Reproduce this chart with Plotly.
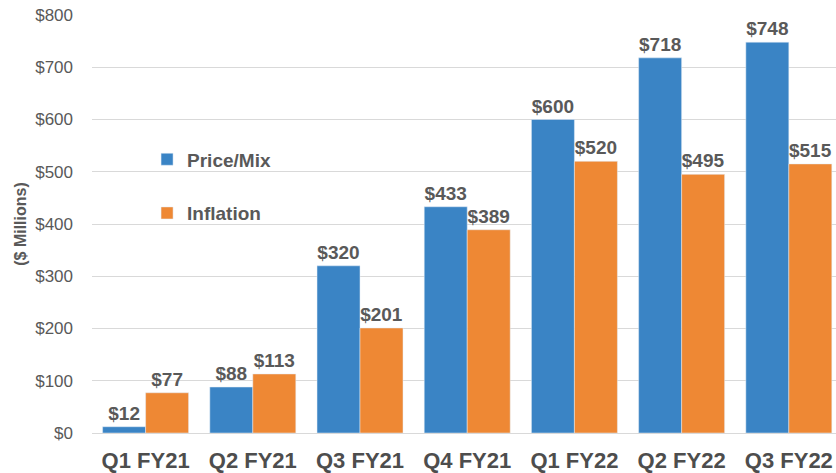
import plotly.graph_objects as go

categories = ["Q1 FY21", "Q2 FY21", "Q3 FY21", "Q4 FY21", "Q1 FY22", "Q2 FY22", "Q3 FY22"]
price_mix = [12, 88, 320, 433, 600, 718, 748]
inflation = [77, 113, 201, 389, 520, 495, 515]
y_ticks = [0, 100, 200, 300, 400, 500, 600, 700, 800]
y_tick_labels = ["$" + str(v) for v in y_ticks]

BLUE = "#3A84C5"
ORANGE = "#EE8834"
GRAY = "#595959"
FONT = "Liberation Sans, Arial, sans-serif"

fig = go.Figure()
fig.add_trace(go.Bar(
    name="Price/Mix", x=categories, y=price_mix, marker_color=BLUE,
    text=["$" + str(v) for v in price_mix], textposition="outside",
    textfont=dict(family=FONT, size=19, color=GRAY, weight="bold"),
    cliponaxis=False, legendgroup="a",
))
fig.add_trace(go.Bar(
    name="Inflation", x=categories, y=inflation, marker_color=ORANGE,
    text=["$" + str(v) for v in inflation], textposition="outside",
    textfont=dict(family=FONT, size=19, color=GRAY, weight="bold"),
    cliponaxis=False, legendgroup="b",
))

fig.update_layout(
    width=836, height=473,
    margin=dict(l=92, r=0, t=15, b=38),
    paper_bgcolor="white", plot_bgcolor="white",
    barmode="group", bargap=0.198, bargroupgap=0,
    font=dict(family=FONT, color=GRAY),
    uniformtext=dict(mode=False),
    legend=dict(
        x=0.074, y=0.70, xanchor="left", yanchor="top",
        font=dict(family=FONT, size=19, color=GRAY, weight="bold"),
        tracegroupgap=26, bgcolor="rgba(0,0,0,0)",
        itemwidth=30,
    ),
    xaxis=dict(
        range=[-0.5, 6.44],
        tickfont=dict(family=FONT, size=22, color="#4D4D4D", weight="bold"),
        showgrid=False, showline=False, ticks="", ticklabelstandoff=12,
    ),
    yaxis=dict(
        range=[0, 800],
        tickvals=y_ticks, ticktext=y_tick_labels,
        tickfont=dict(family=FONT, size=17, color=GRAY),
        showgrid=True, gridcolor="#D9D9D9", gridwidth=1,
        zeroline=True, zerolinecolor="#D9D9D9", zerolinewidth=1,
        ticks="", ticklabelstandoff=18,
        title=dict(text="($ Millions)", font=dict(family=FONT, size=16, color=GRAY, weight="bold"), standoff=4),
    ),
)

fig.write_html("out.html", config={"displayModeBar": False},
               post_script="document.body.style.margin='0';")
